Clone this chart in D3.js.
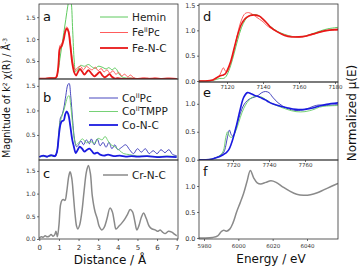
<!DOCTYPE html>
<html><head><meta charset="utf-8">
<script src="https://cdn.jsdelivr.net/npm/d3@7"></script>
<style>body{margin:0;background:#fff}svg{display:block;font-family:"DejaVu Sans",sans-serif}</style>
</head><body><svg id="c" width="360" height="266"></svg>
<script>
// ---------- R-space data (panel a: Fe) ----------
const heminR=[0,0.3,0.6,0.85,0.95,1.05,1.15,1.25,1.35,1.45,1.55,1.62,1.7,1.78,1.85,1.95,2.1,2.3,2.5,2.7,2.85,3.0,3.2,3.4,3.55,3.7,3.85,3.95,4.1,4.3,4.6,5.0,5.5,6.0,6.5,7.0];
const heminV=[0.1,0.1,0.11,0.12,0.25,0.55,0.85,1.15,1.45,1.75,1.95,1.85,1.2,0.5,0.26,0.3,0.4,0.38,0.42,0.36,0.33,0.38,0.36,0.32,0.35,0.3,0.34,0.3,0.18,0.12,0.11,0.1,0.1,0.1,0.1,0.09];
const fePcR=[0,0.3,0.6,0.85,0.95,1.05,1.15,1.25,1.33,1.4,1.48,1.58,1.68,1.77,1.85,1.95,2.1,2.25,2.4,2.55,2.7,2.85,3.0,3.15,3.3,3.45,3.6,3.75,3.9,4.05,4.2,4.35,4.5,4.65,4.8,5.0,5.3,5.6,5.9,6.2,6.6,7.0];
const fePcV=[0.1,0.1,0.11,0.12,0.3,0.85,0.9,1.05,1.22,1.28,1.22,0.95,0.55,0.36,0.3,0.35,0.38,0.3,0.38,0.33,0.3,0.36,0.28,0.33,0.25,0.3,0.22,0.28,0.2,0.24,0.16,0.2,0.14,0.18,0.12,0.1,0.12,0.1,0.12,0.1,0.11,0.1];
const feNCR=[0,0.3,0.6,0.85,0.95,1.05,1.15,1.25,1.33,1.4,1.48,1.58,1.68,1.78,1.87,1.97,2.07,2.18,2.3,2.4,2.5,2.65,2.8,2.95,3.08,3.2,3.32,3.45,3.58,3.7,3.85,4.0,4.3,4.6,5.0,5.5,6.0,6.5,7.0];
const feNCV=[0.1,0.1,0.11,0.12,0.3,0.78,0.85,1.0,1.18,1.24,1.18,0.85,0.45,0.24,0.17,0.25,0.32,0.26,0.19,0.24,0.29,0.22,0.15,0.2,0.25,0.18,0.13,0.16,0.2,0.14,0.1,0.11,0.09,0.1,0.09,0.1,0.09,0.1,0.09];
// ---------- R-space data (panel b: Co) ----------
const coPcR=[0,0.2,0.4,0.6,0.8,0.9,1.0,1.08,1.15,1.25,1.35,1.45,1.52,1.6,1.7,1.8,1.9,2.0,2.12,2.25,2.4,2.55,2.65,2.8,2.95,3.1,3.25,3.4,3.55,3.7,3.85,4.0,4.2,4.4,4.6,4.8,5.0,5.2,5.4,5.6,5.8,6.0,6.2,6.4,6.6,6.8,7.0];
const coPcV=[0.06,0.08,0.05,0.08,0.06,0.15,0.55,0.85,0.9,1.05,1.3,1.52,1.55,1.3,0.8,0.4,0.26,0.3,0.38,0.3,0.4,0.32,0.42,0.3,0.42,0.28,0.35,0.25,0.35,0.22,0.3,0.2,0.25,0.3,0.2,0.12,0.22,0.15,0.22,0.12,0.18,0.12,0.2,0.14,0.2,0.1,0.08];
const coTmppR=[0,0.3,0.6,0.85,0.95,1.05,1.15,1.25,1.35,1.45,1.52,1.6,1.7,1.8,1.88,2.0,2.2,2.4,2.6,2.8,3.0,3.2,3.35,3.5,3.65,3.85,4.1,4.3,4.6,5.0,5.5,6.0,6.5,7.0];
const coTmppV=[0.06,0.06,0.07,0.1,0.3,0.75,0.88,1.0,1.15,1.28,1.3,1.1,0.7,0.38,0.3,0.34,0.42,0.34,0.37,0.33,0.43,0.4,0.47,0.38,0.3,0.26,0.18,0.12,0.1,0.07,0.07,0.06,0.07,0.06];
const coNCR=[0,0.2,0.4,0.6,0.8,0.9,1.0,1.08,1.15,1.25,1.32,1.4,1.48,1.58,1.68,1.75,1.86,1.96,2.06,2.18,2.3,2.43,2.55,2.68,2.8,2.95,3.1,3.3,3.5,3.8,4.1,4.4,4.7,5.0,5.5,6.0,6.5,7.0];
const coNCV=[0.05,0.08,0.06,0.09,0.07,0.16,0.5,0.72,0.78,0.8,0.92,0.98,0.92,0.68,0.4,0.28,0.13,0.2,0.26,0.22,0.16,0.2,0.22,0.17,0.12,0.14,0.1,0.08,0.1,0.07,0.08,0.06,0.07,0.06,0.07,0.05,0.06,0.05];
// ---------- R-space data (panel c: Cr) ----------
const crR=[0,0.1,0.2,0.3,0.4,0.5,0.6,0.7,0.78,0.85,0.92,1.0,1.08,1.15,1.23,1.31,1.4,1.5,1.57,1.65,1.74,1.82,1.9,1.96,2.05,2.16,2.28,2.4,2.5,2.6,2.7,2.84,2.95,3.05,3.18,3.3,3.45,3.6,3.72,3.82,3.91,4.05,4.2,4.37,4.5,4.63,4.75,4.87,4.97,5.08,5.2,5.31,5.45,5.6,5.75,5.9,6.05,6.16,6.28,6.41,6.58,6.75,6.9,7.0];
const crV=[0.02,0.05,0.04,0.07,0.05,0.06,0.1,0.06,0.09,0.17,0.05,0.3,0.75,0.85,0.87,0.85,1.05,1.38,1.48,1.35,0.95,0.55,0.28,0.22,0.3,0.57,1.05,1.48,1.62,1.45,0.95,0.6,0.45,0.28,0.2,0.25,0.45,0.68,0.6,0.38,0.22,0.28,0.35,0.45,0.55,0.65,0.6,0.38,0.2,0.3,0.48,0.57,0.45,0.28,0.22,0.2,0.17,0.2,0.15,0.12,0.17,0.15,0.1,0.07];
// ---------- XANES (panel d: Fe K-edge) ----------
const feE=[7104,7108,7112,7114,7116,7117,7118,7119,7120,7122,7124,7126,7128,7130,7132,7134,7136,7138,7140,7142,7144,7148,7152,7156,7160,7164,7168,7172,7176,7182];
const heminMu=[0,0,0.01,0.03,0.05,0.05,0.05,0.07,0.12,0.3,0.55,0.82,1.05,1.2,1.28,1.31,1.31,1.28,1.22,1.15,1.08,0.98,0.92,0.88,0.87,0.89,0.94,0.99,1.03,1.06];
const fePcMu=[0,0,0.01,0.05,0.12,0.2,0.26,0.2,0.18,0.35,0.62,0.95,1.2,1.33,1.35,1.32,1.27,1.22,1.17,1.1,1.05,0.97,0.91,0.88,0.87,0.88,0.92,0.97,1.0,1.0];
const feNCMu=[0,0,0.02,0.06,0.1,0.11,0.12,0.14,0.2,0.38,0.65,0.92,1.12,1.23,1.28,1.3,1.3,1.28,1.22,1.15,1.07,0.97,0.9,0.87,0.87,0.89,0.93,0.97,1.0,1.02];
// ---------- XANES (panel e: Co K-edge) ----------
const coE=[7701,7705,7708,7710,7712,7714,7715,7716,7717,7718,7719,7720,7722,7724,7726,7728,7730,7732,7734,7736,7738,7740,7742,7745,7750,7755,7760,7765,7768,7772,7779];
const coPcMu=[0,0,0.01,0.03,0.06,0.1,0.14,0.25,0.42,0.53,0.45,0.42,0.6,0.82,0.98,1.06,1.1,1.12,1.15,1.2,1.22,1.2,1.12,1.02,0.92,0.88,0.9,0.96,0.98,0.97,0.99];
const coTmppMu=[0,0,0.01,0.03,0.06,0.12,0.2,0.4,0.5,0.42,0.4,0.42,0.55,0.75,0.92,1.03,1.1,1.13,1.13,1.12,1.08,1.04,1.0,0.96,0.9,0.86,0.86,0.9,0.94,0.96,0.97];
const coNCMu=[0,0,0.01,0.03,0.05,0.08,0.1,0.12,0.15,0.2,0.28,0.38,0.62,0.9,1.12,1.2,1.18,1.15,1.13,1.1,1.07,1.03,1.0,0.97,0.93,0.9,0.9,0.93,0.96,0.99,1.02];
// ---------- XANES (panel f: Cr K-edge) ----------
const crE=[5977,5980,5985,5988,5990,5991.5,5993,5995,5997,5999,6001,6003,6005,6007,6009,6011,6013,6016,6019,6022,6026,6030,6034,6038,6042,6046,6050,6054,6058];
const crMu=[0,0,0.01,0.04,0.12,0.15,0.13,0.17,0.3,0.5,0.67,0.85,1.08,1.3,1.15,1.06,1.04,1.07,1.1,1.07,0.98,0.9,0.84,0.82,0.83,0.87,0.93,0.99,1.05];
// ---------- ticks ----------
const rTicks=[0,1,2,3,4,5,6,7];
const yTicksAB=[0.5,1.0,1.5];
const yTicksC=[0.0,0.5,1.0,1.5];
const yTicksD=[0.0,0.5,1.0,1.5];
const yTicksEF=[0.0,0.5,1.0];
const feTicks=[7120,7140,7160,7180];
const coTicks=[7720,7740,7760];
const crTicks=[5980,6000,6020,6040];

const svg=d3.select("#c");
const BORDER="#333";
const xR=d3.scaleLinear().domain([0,7]).range([39.3,176.7]);
const xFe=d3.scaleLinear().domain([7120,7180]).range([227,335]);
const xCo=d3.scaleLinear().domain([7720,7760]).range([233,305]);
const xCr=d3.scaleLinear().domain([5980,6040]).range([204,307]);
let cid=0;

function richText(sel,str,size){
  const re=/\^\{([^}]*)\}/g;let last=0,m;
  while((m=re.exec(str))){
    if(m.index>last) sel.append("tspan").text(str.slice(last,m.index));
    sel.append("tspan").attr("baseline-shift","super").attr("font-size",size*0.62).text(m[1]);
    last=m.index+m[0].length;
  }
  if(last<str.length) sel.append("tspan").text(str.slice(last));
}

function panel(o){
  const g=svg.append("g");
  const y=d3.scaleLinear().domain(o.yDomain).range([o.y1,o.y0]);
  const id="clip"+(cid++);
  svg.append("clipPath").attr("id",id).append("rect")
    .attr("x",o.x0).attr("y",o.y0).attr("width",o.x1-o.x0).attr("height",o.y1-o.y0);
  const line=d3.line().x(d=>o.x(d[0])).y(d=>y(d[1])).curve(d3.curveCatmullRom.alpha(0.5));
  o.series.forEach(s=>{
    g.append("path").attr("clip-path",`url(#${id})`)
      .attr("d",line(d3.zip(s.x,s.v))).attr("fill","none")
      .attr("stroke",s.color).attr("stroke-width",s.w).attr("stroke-linejoin","round");
  });
  g.append("rect").attr("x",o.x0).attr("y",o.y0).attr("width",o.x1-o.x0).attr("height",o.y1-o.y0)
    .attr("fill","none").attr("stroke",BORDER).attr("stroke-width",0.8);
  const ya=g.append("g").attr("transform",`translate(${o.x0},0)`)
    .call(d3.axisLeft(y).tickValues(o.yTicks).tickFormat(d3.format(".1f")).tickSize(2).tickPadding(1.5));
  ya.select(".domain").remove();
  ya.selectAll("line").attr("stroke",BORDER).attr("stroke-width",0.7);
  ya.selectAll("text").attr("font-size",o.yFont).attr("fill","#333").attr("font-family","DejaVu Sans");
  if(o.xTicks){
    const xa=g.append("g").attr("transform",`translate(0,${o.y1})`)
      .call(d3.axisBottom(o.x).tickValues(o.xTicks).tickFormat(d3.format("d")).tickSize(2).tickPadding(o.xPad));
    xa.select(".domain").remove();
    xa.selectAll("line").attr("stroke",BORDER).attr("stroke-width",0.7);
    xa.selectAll("text").attr("font-size",o.xFont).attr("fill","#333").attr("font-family","DejaVu Sans");
  }
  g.append("text").attr("x",o.x0+4).attr("y",o.letterY).attr("font-size",13).attr("fill","#111").text(o.letter);
  if(o.legend){
    o.legend.items.forEach((it,i)=>{
      const yy=o.legend.y+i*o.legend.dy;
      g.append("line").attr("x1",o.legend.x).attr("x2",o.legend.x+o.legend.len).attr("y1",yy).attr("y2",yy)
        .attr("stroke",it.color).attr("stroke-width",it.w);
      const t=g.append("text").attr("x",o.legend.x+o.legend.len+4).attr("y",yy+3.8)
        .attr("font-size",o.legend.font).attr("fill","#222");
      richText(t,it.name,o.legend.font);
    });
  }
}

const GREEN="#4cc44c", RED_T="#ff4a4a", RED="#e81818", NAVY="#3333b8", LGREEN="#66cc66", BLUE="#1a1ae0", GRAY="#8a8a8a";

panel({x0:39,x1:178,y0:4,y1:79,x:xR,yDomain:[0.09,1.8],yTicks:yTicksAB,yFont:6,letter:"a",letterY:21,
  series:[{x:heminR,v:heminV,color:GREEN,w:0.9},{x:fePcR,v:fePcV,color:RED_T,w:0.9},{x:feNCR,v:feNCV,color:RED,w:1.8}],
  legend:{x:100,y:17,dy:15.5,len:28,font:10.5,items:[{name:"Hemin",color:GREEN,w:0.9},{name:"Fe^{II}Pc",color:RED_T,w:0.9},{name:"Fe-N-C",color:RED,w:1.8}]}});
panel({x0:39,x1:178,y0:79,y1:160,x:xR,yDomain:[-0.01,1.64],yTicks:yTicksAB,yFont:6,letter:"b",letterY:102,
  series:[{x:coPcR,v:coPcV,color:NAVY,w:0.9},{x:coTmppR,v:coTmppV,color:LGREEN,w:0.9},{x:coNCR,v:coNCV,color:BLUE,w:1.8}],
  legend:{x:89,y:98,dy:13.5,len:29,font:10.5,items:[{name:"Co^{II}Pc",color:NAVY,w:0.9},{name:"Co^{II}TMPP",color:LGREEN,w:0.9},{name:"Co-N-C",color:BLUE,w:1.8}]}});
panel({x0:39,x1:178,y0:160,y1:239,x:xR,yDomain:[0,1.74],yTicks:yTicksC,yFont:6,letter:"c",letterY:178,
  xTicks:rTicks,xFont:7,xPad:4,
  series:[{x:crR,v:crV,color:GRAY,w:1.5}],
  legend:{x:103,y:175,dy:0,len:25,font:10.5,items:[{name:"Cr-N-C",color:GRAY,w:1.5}]}});

panel({x0:199,x1:338,y0:4,y1:82,x:xFe,yDomain:[-0.02,1.52],yTicks:yTicksD,yFont:6.5,letter:"d",letterY:21,
  xTicks:feTicks,xFont:5.5,xPad:1.5,
  series:[{x:feE,v:heminMu,color:GREEN,w:0.9},{x:feE,v:fePcMu,color:RED_T,w:0.9},{x:feE,v:feNCMu,color:RED,w:1.6}]});
panel({x0:199,x1:338,y0:82,y1:160,x:xCo,yDomain:[-0.005,1.39],yTicks:yTicksEF,yFont:6.5,letter:"e",letterY:97,
  xTicks:coTicks,xFont:5.5,xPad:1.5,
  series:[{x:coE,v:coPcMu,color:NAVY,w:0.9},{x:coE,v:coTmppMu,color:LGREEN,w:0.9},{x:coE,v:coNCMu,color:BLUE,w:1.6}]});
panel({x0:199,x1:338,y0:160,y1:239,x:xCr,yDomain:[-0.02,1.5],yTicks:yTicksEF,yFont:6.5,letter:"f",letterY:176,
  xTicks:crTicks,xFont:5.5,xPad:3,
  series:[{x:crE,v:crMu,color:GRAY,w:1.5}]});

// axis titles
svg.append("text").attr("x",110).attr("y",264).attr("text-anchor","middle").attr("font-size",12).attr("fill","#111").text("Distance / Å");
svg.append("text").attr("x",271).attr("y",263).attr("text-anchor","middle").attr("font-size",12).attr("fill","#111").text("Energy / eV");
const yl=svg.append("text").attr("transform","translate(9.5,98) rotate(-90)").attr("text-anchor","middle").attr("font-size",9.6).attr("fill","#111");
richText(yl,"Magnitude of k^{2} χ(R) / Å^{-3}",9.6);
svg.append("text").attr("transform","translate(356,113) rotate(-90)").attr("text-anchor","middle").attr("font-size",12).attr("fill","#111").text("Normalized μ(E)");
</script></body></html>
